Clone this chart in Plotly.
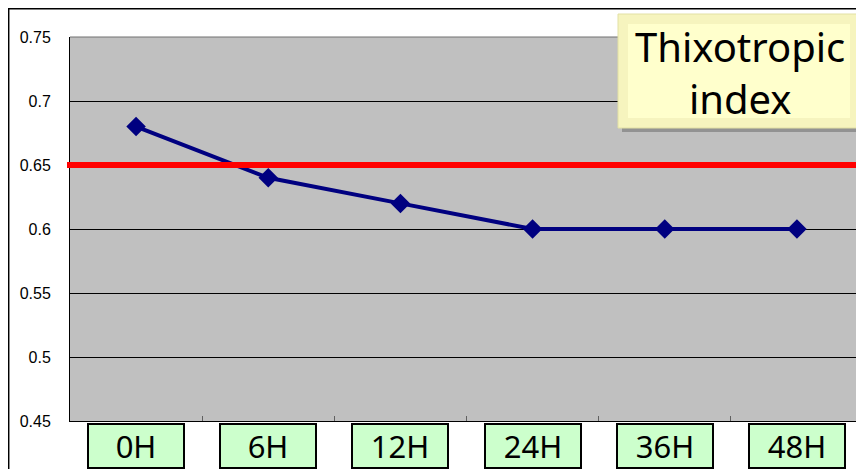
import plotly.graph_objects as go

categories = ["0H", "6H", "12H", "24H", "36H", "48H"]
values = [0.68, 0.64, 0.62, 0.60, 0.60, 0.60]
reference_value = 0.65
y_ticks = [0.45, 0.5, 0.55, 0.6, 0.65, 0.7, 0.75]
y_tick_labels = ["0.45", "0.5", "0.55", "0.6", "0.65", "0.7", "0.75"]
title_text = "Thixotropic<br>index"

# the page places the figure 8px in from the top-left corner
OFF = 8
W, H = 864 - OFF, 469 - OFF
L, R, T, B = 70 - OFF, 1, 37 - OFF, 48
pw = W - L - R
ph = H - T - B


def px(x):
    # x in screenshot pixels -> paper
    return (x - OFF - L) / pw


def py(y):
    # y in screenshot pixels -> paper
    return (H - B - (y - OFF)) / ph


fig = go.Figure()
fig.add_trace(go.Scatter(
    x=categories, y=values, mode="lines+markers",
    line=dict(color="#000080", width=4),
    marker=dict(symbol="diamond", size=15, color="#000080"),
    showlegend=False, hoverinfo="skip",
))

shapes = []
# red reference line
shapes.append(dict(type="line", xref="paper", yref="y", x0=px(67), x1=1.0,
                   y0=reference_value, y1=reference_value,
                   line=dict(color="#FF0000", width=6), layer="above"))
# plot area top and right borders
shapes.append(dict(type="line", xref="paper", yref="paper", x0=0, x1=1, y0=1, y1=1,
                   line=dict(color="#707070", width=1)))
shapes.append(dict(type="line", xref="paper", yref="paper", x0=1, x1=1, y0=0, y1=1,
                   line=dict(color="#808080", width=1)))
# outer chart border (top and left)
shapes.append(dict(type="line", xref="paper", yref="paper", x0=px(7.5), x1=px(870),
                   y0=py(8.7), y1=py(8.7), line=dict(color="#000000", width=1.5)))
shapes.append(dict(type="line", xref="paper", yref="paper", x0=px(8.7), x1=px(8.7),
                   y0=py(8.7), y1=py(480), line=dict(color="#000000", width=1.5)))
# title box shadow and box
shapes.append(dict(type="rect", xref="paper", yref="paper", x0=px(622), x1=px(864),
                   y0=py(132), y1=py(18), fillcolor="rgba(90,90,90,0.45)",
                   line=dict(width=0), layer="above"))
shapes.append(dict(type="rect", xref="paper", yref="paper", x0=px(618), x1=px(860),
                   y0=py(128), y1=py(14), fillcolor="#F6F4BE",
                   line=dict(color="#E2E0A4", width=1), layer="above"))
shapes.append(dict(type="rect", xref="paper", yref="paper", x0=px(628), x1=px(850),
                   y0=py(118), y1=py(24), fillcolor="#FFFFCC",
                   line=dict(width=0), layer="above"))

annotations = []
annotations.append(dict(xref="paper", yref="paper", x=px(740), y=py(72),
                        xanchor="center", yanchor="middle", text=title_text,
                        showarrow=False,
                        font=dict(family="Noto Sans, Open Sans, sans-serif", size=40, color="#000000")))
for c in categories:
    annotations.append(dict(xref="x", yref="paper", x=c, y=py(423),
                            xanchor="center", yanchor="top", text=c, showarrow=False,
                            width=94, height=42, bgcolor="#CCFFCC",
                            bordercolor="#000000", borderwidth=2, borderpad=0,
                            font=dict(family="Noto Sans, Open Sans, sans-serif", size=31, color="#000000")))

fig.update_layout(
    width=W, height=H,
    margin=dict(l=L, r=R, t=T, b=B, pad=0),
    paper_bgcolor="#FFFFFF", plot_bgcolor="#C0C0C0",
    shapes=shapes, annotations=annotations,
    xaxis=dict(type="category", showticklabels=False, showgrid=False, zeroline=False,
               showline=True, linecolor="#000000", linewidth=1,
               ticks="inside", tickson="boundaries", ticklen=5, tickcolor="#606060",
               range=[-0.5, 5.5]),
    yaxis=dict(range=[0.45, 0.75], tickvals=y_ticks, ticktext=y_tick_labels,
               showgrid=True, gridcolor="#000000", gridwidth=1, zeroline=False,
               showline=True, linecolor="#000000", linewidth=1,
               ticks="", ticklabelstandoff=15,
               tickfont=dict(family="Liberation Sans, Arial, sans-serif", size=16, color="#000000")),
)

fig.write_html("out.html")
